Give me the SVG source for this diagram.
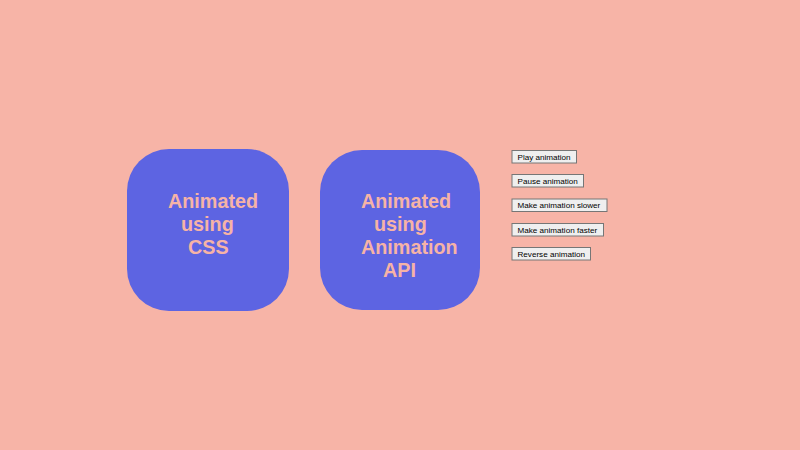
<svg xmlns="http://www.w3.org/2000/svg" width="800" height="450" viewBox="0 0 800 450">
<style>
.box{fill:#5D64E2;}
.lbl{font-family:"Liberation Sans",Arial,sans-serif;font-weight:bold;font-size:19.8px;fill:#F6B3A6;}
.btn rect{fill:#EFEFEF;stroke:#767676;stroke-width:1;}
.btn text{font-family:"Liberation Sans",Arial,sans-serif;font-size:8.1px;fill:#000;}
</style>
<rect width="800" height="450" fill="#F7B4A7"/>
<g id="node-css">
<rect class="box" x="127" y="149" width="162" height="162" rx="42" ry="42"/>
<text class="lbl"><tspan x="168" y="208">Animated</tspan><tspan x="181" y="231">using</tspan><tspan x="188" y="254">CSS</tspan></text>
</g>
<g id="node-api">
<rect class="box" x="320" y="150" width="160" height="160" rx="42" ry="42"/>
<text class="lbl"><tspan x="361" y="208">Animated</tspan><tspan x="374" y="231">using</tspan><tspan x="361" y="254">Animation</tspan><tspan x="383" y="277">API</tspan></text>
</g>
<g id="connectors"></g>
<g id="btn-play" class="btn"><rect x="512" y="150.5" width="64.5" height="12.5"/><text x="517.5" y="159.8">Play animation</text></g>
<g id="btn-pause" class="btn"><rect x="512" y="174.5" width="71.5" height="12.5"/><text x="517.5" y="183.8">Pause animation</text></g>
<g id="btn-slower" class="btn"><rect x="512" y="199" width="95" height="12.5"/><text x="517.5" y="208">Make animation slower</text></g>
<g id="btn-faster" class="btn"><rect x="512" y="223.5" width="91.5" height="12.5"/><text x="517.5" y="232.8">Make animation faster</text></g>
<g id="btn-reverse" class="btn"><rect x="512" y="247.5" width="78.5" height="12.5"/><text x="517.5" y="256.8">Reverse animation</text></g>
</svg>
